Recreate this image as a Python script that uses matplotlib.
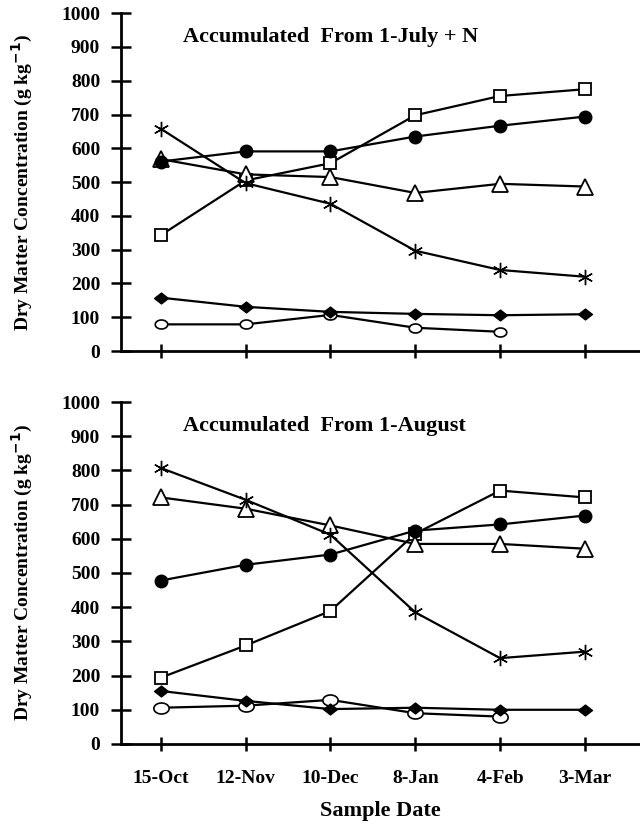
import matplotlib
matplotlib.use("Agg")
import matplotlib.pyplot as plt
import numpy as np
from matplotlib.path import Path

plt.rcParams['font.family'] = ['Liberation Serif', 'DejaVu Serif']
plt.rcParams['font.weight'] = 'bold'

dates = ["15-Oct", "12-Nov", "10-Dec", "8-Jan", "4-Feb", "3-Mar"]

# Top panel: Accumulated From 1-July + N
top_square = [343, 505, 556, 698, 755, 775]
top_fcircle = [561, 591, 591, 635, 667, 694]
top_triangle = [568, 523, 515, 468, 495, 487]
top_star = [658, 497, 436, 297, 240, 220]
top_diamond = [158, 131, 116, 110, 106, 109]
top_ocircle = [79, 79, 107, 69, 57]

# Bottom panel: Accumulated From 1-August
bot_square = [194, 288, 389, 615, 741, 721]
bot_fcircle = [478, 524, 554, 624, 642, 668]
bot_triangle = [721, 688, 639, 585, 585, 571]
bot_star = [807, 714, 612, 385, 251, 270]
bot_diamond = [155, 126, 102, 106, 100, 100]
bot_ocircle = [106, 112, 129, 90, 80]

yticks = [0, 100, 200, 300, 400, 500, 600, 700, 800, 900, 1000]

# flattened marker shapes (wider than tall)
_t = np.linspace(0, 2 * np.pi, 60)
ellipse = Path(np.column_stack([np.cos(_t), 0.72 * np.sin(_t)]), closed=True)
flat_diamond = Path([(-1, 0), (0, 0.78), (1, 0), (0, -0.78), (-1, 0)], closed=True)

fig = plt.figure(figsize=(6.4, 8.26), dpi=100)
ax1 = fig.add_axes([0.189, 0.575, 0.811, 0.409])
ax2 = fig.add_axes([0.189, 0.0993, 0.811, 0.414])

def draw(ax, sq, fc, tr, st, di, oc, title, big_oc):
    x = list(range(len(dates)))
    lw = 1.6
    ax.plot(x, sq, '-', color='black', lw=lw, marker='s', ms=9, mfc='white', mec='black', mew=1.3)
    ax.plot(x, tr, '-', color='black', lw=lw, marker='^', ms=11, mfc='white', mec='black', mew=1.3)
    ax.plot(x, fc, '-', color='black', lw=lw, marker='o', ms=9, mfc='black', mec='black')
    ax.plot(x, st, '-', color='black', lw=lw, marker=(6, 2, 0), ms=11, mec='black', mew=1.0)
    ax.plot(x[:len(oc)], oc, '-', color='black', lw=lw, marker=ellipse,
            ms=(11 if big_oc else 9), mfc='white', mec='black', mew=1.2)
    ax.plot(x, di, '-', color='black', lw=lw, marker=flat_diamond, ms=10, mfc='black', mec='black')
    ax.set_xlim(-0.47, 5.65)
    ax.set_ylim(0, 1000)
    ax.set_yticks(yticks)
    ax.set_yticklabels([str(v) for v in yticks], fontsize=14, fontweight='bold')
    ax.set_xticks(x)
    for s in ['top', 'right']:
        ax.spines[s].set_visible(False)
    for s in ['left', 'bottom']:
        ax.spines[s].set_linewidth(2.0)
    ax.tick_params(axis='y', direction='inout', length=14, width=1.8, pad=8)
    ax.tick_params(axis='x', direction='inout', length=10, width=1.8, pad=14)
    ax.set_ylabel("Dry Matter Concentration (g kg$^{\\mathbf{-1}}$)", fontsize=14,
                  fontweight='bold', labelpad=19)
    ax.text(0.12, 0.93, title, transform=ax.transAxes, fontsize=16, fontweight='bold',
            ha='left', va='center')

draw(ax1, top_square, top_fcircle, top_triangle, top_star, top_diamond, top_ocircle,
     "Accumulated  From 1-July + N", False)
ax1.set_xticklabels([])
draw(ax2, bot_square, bot_fcircle, bot_triangle, bot_star, bot_diamond, bot_ocircle,
     "Accumulated  From 1-August", True)
ax2.set_xticklabels(dates, fontsize=14, fontweight='bold')
ax2.set_xlabel("Sample Date", fontsize=16, fontweight='bold', labelpad=10)

fig.savefig("out.png", dpi=100)
